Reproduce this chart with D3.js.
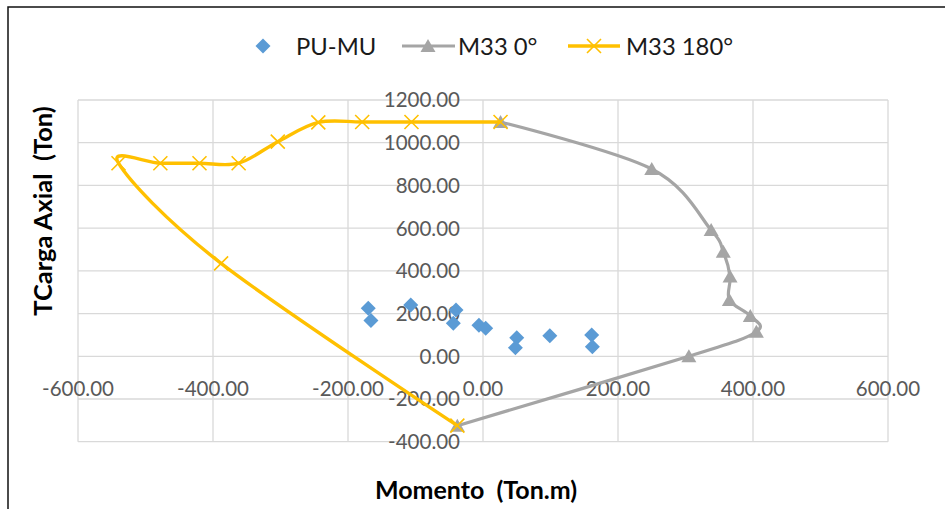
<!DOCTYPE html>
<html><head><meta charset="utf-8">
<script src="https://cdn.jsdelivr.net/npm/d3@7"></script>
<style>
body{margin:0;background:#fff;}
text{font-family:Lato,"Open Sans",sans-serif;}
</style></head>
<body>
<svg id="c" width="945" height="509"></svg>
<script>
// ---- data ----
const xTicks = [-600,-400,-200,0,200,400,600];
const yTicks = [-400,-200,0,200,400,600,800,1000,1200];
const puMuM = [-170,-166,-107,-44,-40,-6,4,50,48,99,161,162];
const puMuP = [225,167,240,155,217,145,131,87,40,96,100,45];
const m0M = [26,250,338,356,366,365,396,405,305,-38];
const m0P = [1097,877,591,490,373,264,189,115,0,-325];
const m180M = [26,-106,-179,-244,-304,-362,-420,-478,-540,-388,-38];
const m180P = [1097,1097,1097,1095,1005,904,904,904,904,435,-325];
const seriesNames = ["PU-MU","M33 0°","M33 180°"];

const svg = d3.select("#c");
const x = d3.scaleLinear().domain([-600,600]).range([78,888]);
const y = d3.scaleLinear().domain([-400,1200]).range([441.7,100]);
const fmt = d => d3.format(".2f")(d).replace("\u2212","-");

// outer border
svg.append("rect").attr("x",8).attr("y",7).attr("width",960).attr("height",520)
  .attr("fill","none").attr("stroke","#111").attr("stroke-width",1.5);

// grid
const g = svg.append("g");
g.selectAll(".vg").data(xTicks).join("line")
  .attr("x1",d=>x(d)).attr("x2",d=>x(d)).attr("y1",y(1200)).attr("y2",y(-400))
  .attr("stroke","#d9d9d9").attr("stroke-width",1.3);
g.selectAll(".hg").data(yTicks).join("line")
  .attr("y1",d=>y(d)).attr("y2",d=>y(d)).attr("x1",x(-600)).attr("x2",x(600))
  .attr("stroke","#d9d9d9").attr("stroke-width",1.3);

// tick labels
svg.selectAll(".yl").data(yTicks).join("text")
  .attr("x",x(0)-23).attr("y",d=>y(d)).attr("dy","0.36em")
  .attr("text-anchor","end").attr("font-size",20.5).attr("fill","#595959")
  .text(fmt);
svg.selectAll(".xl").data(xTicks).join("text")
  .attr("x",d=>x(d)).attr("y",y(0)+32).attr("dy","0.36em")
  .attr("text-anchor","middle").attr("font-size",20.5).attr("fill","#595959")
  .text(fmt);

const line = d3.line().x(d=>x(d[0])).y(d=>y(d[1])).curve(d3.curveCatmullRom.alpha(0));
const m0 = m0M.map((v,i)=>[v,m0P[i]]);
const m180 = m180M.map((v,i)=>[v,m180P[i]]);
const pu = puMuM.map((v,i)=>[v,puMuP[i]]);

function diamond(sel,cx,cy){
  sel.append("path").attr("d",`M${cx},${cy-7.5}L${cx+7.5},${cy}L${cx},${cy+7.5}L${cx-7.5},${cy}Z`)
    .attr("fill","#5B9BD5");
}
function xmark(sel,cx,cy){
  sel.append("path").attr("d",`M${cx-7},${cy-7}L${cx+7},${cy+7}M${cx-7},${cy+7}L${cx+7},${cy-7}`)
    .attr("stroke","#FFC000").attr("stroke-width",1.6).attr("fill","none");
}
function trimark(sel,cx,cy){
  sel.append("path").attr("d",`M${cx},${cy-7}L${cx+7.5},${cy+6}L${cx-7.5},${cy+6}Z`).attr("fill","#A5A5A5");
}

const pts = svg.append("g");
pu.forEach(d=>diamond(pts,x(d[0]),y(d[1])));

svg.append("path").attr("d",line(m0)).attr("fill","none").attr("stroke","#A5A5A5").attr("stroke-width",3.2);
const tg = svg.append("g");
m0.forEach(d=>trimark(tg,x(d[0]),y(d[1])));

svg.append("path").attr("d",line(m180)).attr("fill","none").attr("stroke","#FFC000").attr("stroke-width",3.4);
const xg = svg.append("g");
m180.forEach(d=>xmark(xg,x(d[0]),y(d[1])));

// legend
const lg = svg.append("g");
const ly = 46;
const lfs = 23.8;
diamond(lg,263,ly);
lg.append("text").attr("x",296).attr("y",ly).attr("dy","0.36em").attr("font-size",lfs).attr("fill","#1a1a1a").text(seriesNames[0]);
lg.append("line").attr("x1",402).attr("x2",455).attr("y1",ly).attr("y2",ly).attr("stroke","#A5A5A5").attr("stroke-width",3.2);
trimark(lg,428,ly);
lg.append("text").attr("x",458).attr("y",ly).attr("dy","0.36em").attr("font-size",lfs).attr("fill","#1a1a1a").text(seriesNames[1]);
lg.append("line").attr("x1",568).attr("x2",620).attr("y1",ly).attr("y2",ly).attr("stroke","#FFC000").attr("stroke-width",3.4);
xmark(lg,594,ly);
lg.append("text").attr("x",626).attr("y",ly).attr("dy","0.36em").attr("font-size",lfs).attr("fill","#1a1a1a").text(seriesNames[2]);

// axis titles
svg.append("text").attr("x",476).attr("y",490).attr("dy","0.36em").attr("text-anchor","middle")
  .attr("font-size",25).attr("font-weight","bold").attr("fill","#000").style("white-space","pre")
  .text("Momento  (Ton.m)");
svg.append("text").attr("transform","translate(43,211) rotate(-90)").attr("dy","0.36em").attr("text-anchor","middle")
  .attr("font-size",25.5).attr("font-weight","bold").attr("fill","#000").style("white-space","pre")
  .text("TCarga Axial  (Ton)");
</script>
</body></html>
